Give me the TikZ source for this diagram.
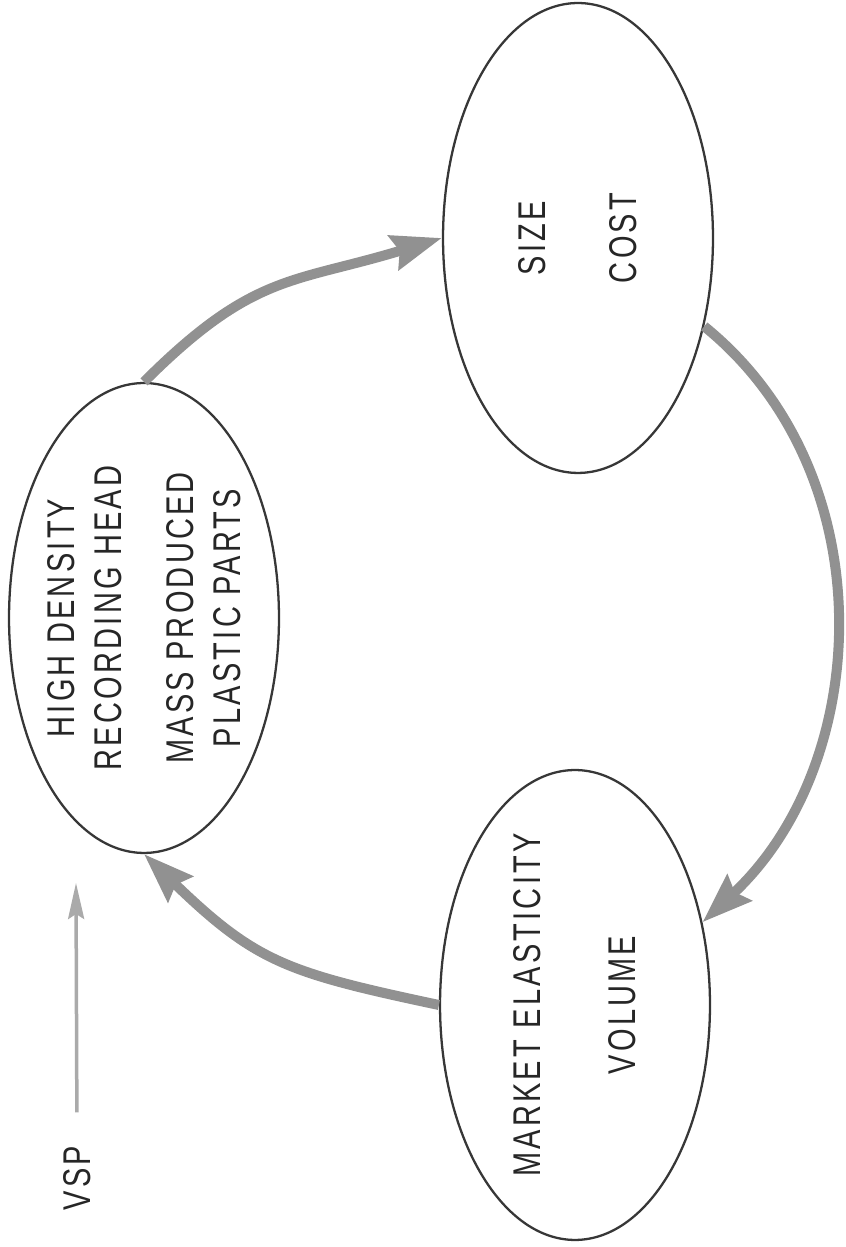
\documentclass[tikz,border=0pt]{standalone}
\usepackage{fontspec}
\usepackage{tikz}
\usetikzlibrary{shapes,arrows.meta,positioning,calc}
\newfontfamily\lettering[FakeStretch=0.75,LetterSpace=8.4]{Liberation Sans}
\definecolor{inkgray}{RGB}{55,55,55}
\definecolor{arrowgray}{RGB}{145,145,145}
\definecolor{pencilgray}{RGB}{170,170,170}

\begin{document}
\begin{tikzpicture}[x=0.02cm, y=0.02cm,
    bubble/.style={ellipse, draw=inkgray, line width=1.3pt, rotate=90, minimum width=9.4cm, minimum height=5.4cm, inner sep=-0.5cm, align=center, text=black!85, font=\lettering\fontsize{22}{26.7}\selectfont},
    loop arrow/.style={-{Stealth[length=1cm, width=0.7cm, inset=0.12cm]}, line width=0.2cm, arrowgray}
  ]
    \useasboundingbox (0,0) rectangle (845,1247);

    % Three Stages of the Cycle
    \node[bubble] (HEAD) at (144,629) {HIGH DENSITY\\RECORDING HEAD\\[14.3pt]MASS PRODUCED\\PLASTIC PARTS};
    \node[bubble] (SIZE_COST) at (578,1009) {SIZE\\[25pt]COST};
    \node[bubble] (MARKET) at (575,242) {MARKET ELASTICITY\\[27.4pt]VOLUME};

    % VSP Marker
    \node[rotate=90, inner sep=0pt, text=black!85, font=\lettering\fontsize{22}{26.7}\selectfont] (VSP) at (77,69) {VSP};
    \coordinate (VSP_TIP) at (76,364);

    % Cycle Arrows
    \draw[loop arrow] (HEAD.east) to[out=45, in=197, looseness=1.2] (SIZE_COST.north);
    \draw[loop arrow] (SIZE_COST.-125) to[out=-39, in=43] (MARKET.-57);
    \draw[loop arrow] (MARKET.north) to[out=168, in=-44, looseness=1.2] (HEAD.west);
    \draw[-{Stealth[length=0.72cm, width=0.32cm, inset=0.1cm]}, line width=0.07cm, pencilgray, shorten <=0.66cm] (VSP.east) -- (VSP_TIP);
\end{tikzpicture}
\end{document}
